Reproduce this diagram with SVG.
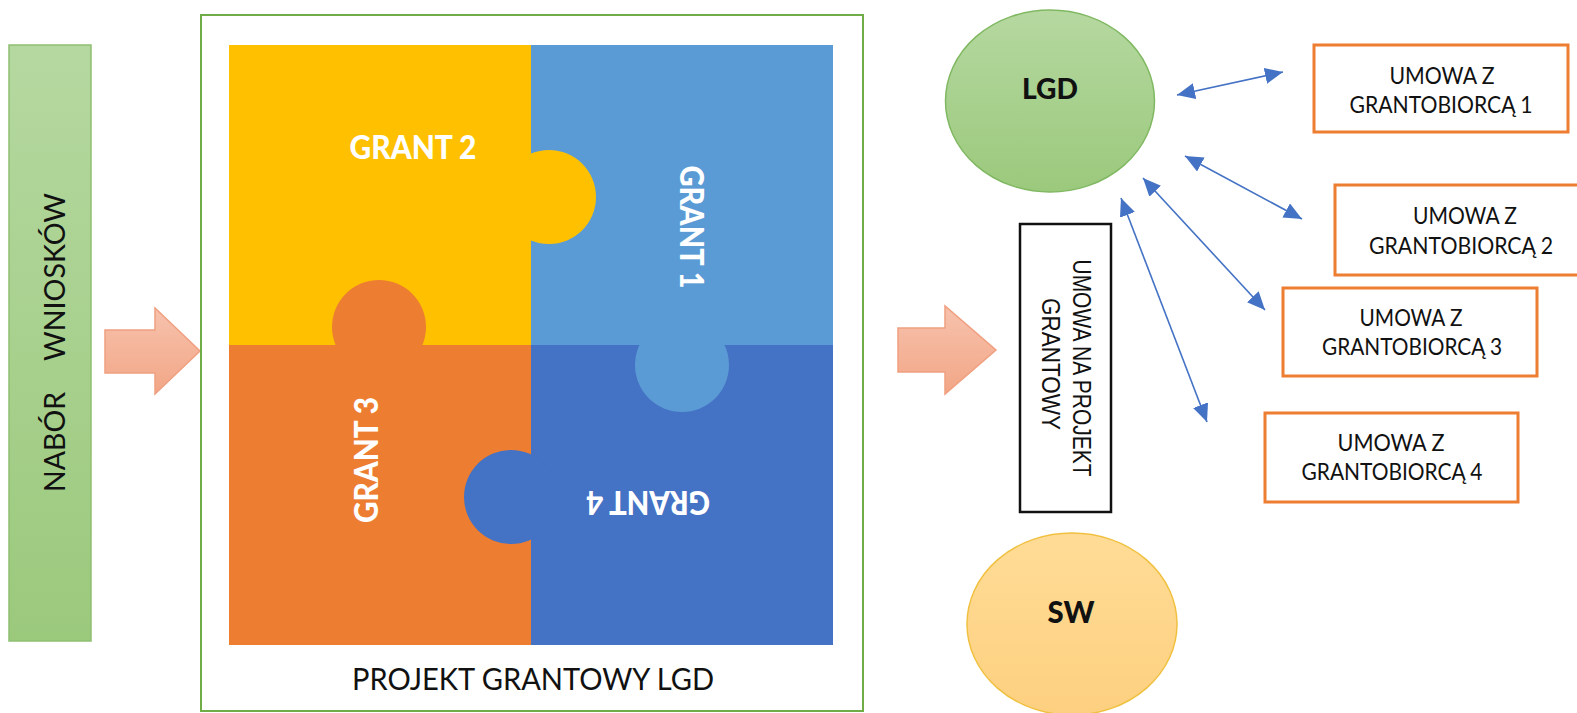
<svg xmlns="http://www.w3.org/2000/svg" width="1577" height="713" viewBox="0 0 1577 713">
<defs>
<linearGradient id="gGreen" x1="0" y1="0" x2="0" y2="1"><stop offset="0" stop-color="#b5d8a0"/><stop offset="1" stop-color="#9bc97c"/></linearGradient>
<linearGradient id="gPink" x1="0" y1="0" x2="0" y2="1"><stop offset="0" stop-color="#f7c2ad"/><stop offset="1" stop-color="#f2a686"/></linearGradient>
<linearGradient id="gSw" x1="0" y1="0" x2="0" y2="1"><stop offset="0" stop-color="#ffdc96"/><stop offset="1" stop-color="#fdd080"/></linearGradient>
<marker id="ah" viewBox="0 0 18 16" refX="18" refY="8" markerWidth="18" markerHeight="16" markerUnits="userSpaceOnUse" orient="auto-start-reverse"><path d="M0,0 L18,8 L0,16 z" fill="#4472c4"/></marker>
<style>
.t{font-family:Lato,"Open Sans","Liberation Sans",sans-serif}
.b{font-weight:900}
.w{fill:#ffffff}
.k{fill:#111111}
.box{fill:#ffffff;stroke:#ed7d31;stroke-width:3}
.pink{fill:url(#gPink);stroke:#f0a080;stroke-width:1.5}
.conn{stroke:#4472c4;stroke-width:1.6;fill:none;marker-start:url(#ah);marker-end:url(#ah)}
.ar{font-family:"Liberation Sans",Arial,sans-serif;font-size:26px;fill:#111111}
</style>
</defs>
<rect width="1577" height="713" fill="#ffffff"/>

<g id="nabor">
<rect x="9" y="45" width="82" height="596" fill="url(#gGreen)" stroke="#8fbf70" stroke-width="1.5"/>
<text class="t k" font-size="28" text-anchor="middle" transform="translate(65,442) rotate(-90)" textLength="100" lengthAdjust="spacingAndGlyphs">NABÓR</text>
<text class="t k" font-size="28" text-anchor="middle" transform="translate(65,277) rotate(-90)" textLength="168" lengthAdjust="spacingAndGlyphs">WNIOSKÓW</text>
</g>

<g id="arrow-in">
<path class="pink" d="M105,330 H155 V308 L200,351 L155,394 V373 H105 Z"/>
</g>

<g id="project">
<rect x="201" y="15" width="662" height="696" fill="#ffffff" stroke="#70ad47" stroke-width="2"/>
<text class="t k" font-size="30" x="533" y="690" text-anchor="middle" textLength="362" lengthAdjust="spacingAndGlyphs">PROJEKT GRANTOWY LGD</text>
</g>

<g id="grant2">
<rect x="229" y="45" width="302" height="300" fill="#ffc000"/>
</g>
<g id="grant1">
<rect x="531" y="45" width="302" height="300" fill="#5b9bd5"/>
</g>
<g id="grant3">
<rect x="229" y="345" width="302" height="300" fill="#ed7d31"/>
</g>
<g id="grant4">
<rect x="531" y="345" width="302" height="300" fill="#4472c4"/>
</g>
<g id="knobs">
<circle cx="549" cy="197" r="47" fill="#ffc000"/>
<circle cx="379" cy="327" r="47" fill="#ed7d31"/>
<circle cx="682" cy="365" r="47" fill="#5b9bd5"/>
<circle cx="511" cy="497" r="47" fill="#4472c4"/>
</g>
<g id="grant-labels">
<text class="t b w" font-size="32" x="413" y="159" text-anchor="middle" textLength="127" lengthAdjust="spacingAndGlyphs">GRANT 2</text>
<text class="t b w" font-size="32" text-anchor="middle" transform="translate(680,227) rotate(90)" textLength="123" lengthAdjust="spacingAndGlyphs">GRANT 1</text>
<text class="t b w" font-size="32" text-anchor="middle" transform="translate(378,460) rotate(-90)" textLength="126" lengthAdjust="spacingAndGlyphs">GRANT 3</text>
<text class="t b w" font-size="32" text-anchor="middle" transform="translate(648,491) rotate(180)" textLength="124" lengthAdjust="spacingAndGlyphs">GRANT 4</text>
</g>

<g id="arrow-out">
<path class="pink" d="M898,328 H945 V306 L996,350 L945,394 V372 H898 Z"/>
</g>

<g id="lgd">
<ellipse cx="1050" cy="101" rx="104.5" ry="91" fill="url(#gGreen)" stroke="#80b862" stroke-width="1.5"/>
<text class="t b k" font-size="29" x="1050" y="99" text-anchor="middle" textLength="56" lengthAdjust="spacingAndGlyphs">LGD</text>
</g>

<g id="umowa-projekt">
<rect x="1020" y="224" width="91" height="288" fill="#ffffff" stroke="#111111" stroke-width="2.5"/>
<text class="ar" text-anchor="middle" transform="translate(1073,368) rotate(90)" textLength="217" lengthAdjust="spacingAndGlyphs">UMOWA NA PROJEKT</text>
<text class="ar" text-anchor="middle" transform="translate(1042,364) rotate(90)" textLength="132" lengthAdjust="spacingAndGlyphs">GRANTOWY</text>
</g>

<g id="sw">
<ellipse cx="1072" cy="624" rx="105" ry="91" fill="url(#gSw)" stroke="#f0c040" stroke-width="1.5"/>
<text class="t b k" font-size="30" x="1071" y="623" text-anchor="middle" textLength="47" lengthAdjust="spacingAndGlyphs">SW</text>
</g>

<g id="umowa1">
<rect class="box" x="1314" y="45" width="254" height="87"/>
<text class="t k" font-size="23" x="1442" y="84" text-anchor="middle" textLength="105" lengthAdjust="spacingAndGlyphs">UMOWA Z</text>
<text class="t k" font-size="23" x="1441" y="113" text-anchor="middle" textLength="183" lengthAdjust="spacingAndGlyphs">GRANTOBIORCĄ 1</text>
</g>
<g id="umowa2">
<rect class="box" x="1335" y="185" width="245" height="90"/>
<text class="t k" font-size="23" x="1465" y="224" text-anchor="middle" textLength="104" lengthAdjust="spacingAndGlyphs">UMOWA Z</text>
<text class="t k" font-size="23" x="1461" y="254" text-anchor="middle" textLength="184" lengthAdjust="spacingAndGlyphs">GRANTOBIORCĄ 2</text>
</g>
<g id="umowa3">
<rect class="box" x="1283" y="288" width="254" height="88"/>
<text class="t k" font-size="23" x="1411" y="326" text-anchor="middle" textLength="103" lengthAdjust="spacingAndGlyphs">UMOWA Z</text>
<text class="t k" font-size="23" x="1412" y="355" text-anchor="middle" textLength="180" lengthAdjust="spacingAndGlyphs">GRANTOBIORCĄ 3</text>
</g>
<g id="umowa4">
<rect class="box" x="1265" y="413" width="253" height="89"/>
<text class="t k" font-size="23" x="1391" y="451" text-anchor="middle" textLength="107" lengthAdjust="spacingAndGlyphs">UMOWA Z</text>
<text class="t k" font-size="23" x="1392" y="480" text-anchor="middle" textLength="181" lengthAdjust="spacingAndGlyphs">GRANTOBIORCĄ 4</text>
</g>

<g id="connectors">
<line class="conn" x1="1177" y1="95" x2="1283" y2="72"/>
<line class="conn" x1="1185" y1="156" x2="1302" y2="219"/>
<line class="conn" x1="1143" y1="178" x2="1265" y2="310"/>
<line class="conn" x1="1121" y1="198" x2="1207" y2="422"/>
</g>
</svg>
